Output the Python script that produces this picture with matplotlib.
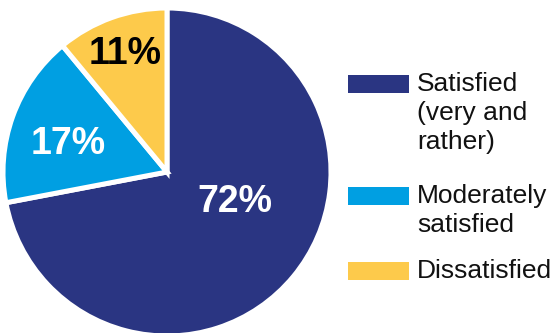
import matplotlib
matplotlib.use("Agg")
import matplotlib.pyplot as plt
from matplotlib.patches import Rectangle

plt.rcParams['font.family'] = ['Liberation Sans', 'DejaVu Sans']

labels = ["Satisfied\n(very and\nrather)", "Moderately\nsatisfied", "Dissatisfied"]
values = [72, 17, 11]
colors = ["#2a3582", "#009fe2", "#fdca4b"]
pct_colors = ["white", "white", "black"]

H = 333
fig = plt.figure(figsize=(5.53, 3.33), dpi=100)
ax = fig.add_axes([0, 0, 1, 1])

ax.pie(values, colors=colors, startangle=90, counterclock=False,
       center=(167, H - 172), radius=164,
       wedgeprops=dict(edgecolor="white", linewidth=3.6))

ax.set_xlim(0, 553)
ax.set_ylim(0, H)
ax.set_aspect("equal")
ax.axis("off")

# percentage labels (pixel positions from the reference)
pct_pos = [(235, 202), (68, 143.5), (125, 53.5)]
for v, (x, y), c in zip(values, pct_pos, pct_colors):
  ax.text(x, H - y, f"{v}%", color=c, fontsize=27, fontweight="bold",
          ha="center", va="center")

# legend drawn by hand
patch_top = [75, 187, 262]
for lab, c, top in zip(labels, colors, patch_top):
  ax.add_patch(Rectangle((348, H - top - 18), 61, 18, facecolor=c, edgecolor="none"))
  ax.text(417, H - top + 3, lab, fontsize=19, color="#111111",
          ha="left", va="top", linespacing=1.25)

fig.savefig("out.png", dpi=100)
